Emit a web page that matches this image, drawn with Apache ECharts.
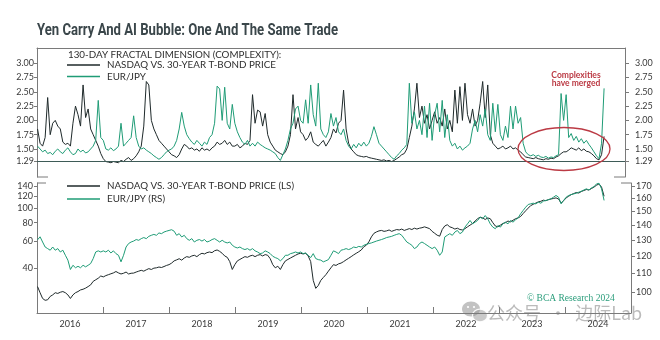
<!DOCTYPE html>
<html>
<head>
<meta charset="utf-8">
<script src="https://cdn.jsdelivr.net/npm/echarts@6/dist/echarts.min.js"></script>
<style>
  html, body { margin: 0; padding: 0; background: #ffffff; }
  #chart { width: 660px; height: 340px; }
</style>
</head>
<body>
<div id="chart"></div>
<script>
// Sampling: one observation every two weeks, starting on the first Monday of 2016.
const SERIES_START = Date.UTC(2016, 0, 4);
const STEP_DAYS = 14;

// 130-day fractal dimension of NASDAQ vs. 30-year T-bond price
const complexityNasdaq = [
  1.85,1.60,1.55,1.70,2.40,1.75,1.95,2.00,1.90,1.85,1.62,1.58,1.60,1.55,1.95,2.25,2.10,1.90,2.62,2.05,2.20,1.85,1.75,1.65,1.55,1.42,
  1.33,1.28,1.27,1.26,1.28,1.27,1.26,1.30,1.28,1.32,1.35,1.30,1.33,1.38,1.45,1.55,1.90,2.68,2.62,2.00,1.85,1.75,1.65,1.60,1.55,1.50,
  1.45,1.40,1.38,1.35,1.40,1.50,1.58,1.55,1.50,1.52,1.48,1.50,1.46,1.52,1.48,1.50,1.47,1.52,1.55,1.62,1.58,1.60,1.65,1.58,1.62,1.55,
  1.55,1.58,1.52,1.55,1.60,1.58,1.65,2.45,1.95,2.18,2.15,1.90,2.12,1.75,1.62,1.55,1.48,1.45,1.42,1.40,1.45,1.55,1.75,2.45,1.85,2.05,1.80,
  1.75,1.65,1.70,1.80,1.62,1.58,1.55,1.60,1.65,1.55,1.62,1.70,1.85,1.78,1.95,2.00,2.53,1.85,1.60,1.50,1.45,1.40,1.38,1.37,1.36,1.37,
  1.35,1.34,1.33,1.32,1.31,1.30,1.31,1.29,1.30,1.28,1.30,1.33,1.36,1.40,1.42,1.50,1.70,1.90,2.20,2.65,2.05,2.25,1.95,2.10,1.85,2.00,
  2.15,1.95,2.05,1.90,2.20,1.85,2.00,1.80,2.53,1.95,2.59,2.00,2.65,2.10,1.95,2.20,1.90,2.00,2.30,2.68,2.05,2.62,1.75,1.60,1.55,1.50,
  1.52,1.55,1.50,1.52,1.55,1.50,1.52,1.48,1.45,1.40,1.36,1.35,1.34,1.33,1.35,1.33,1.32,1.31,1.33,1.32,1.34,1.33,1.36,1.38,1.42,1.45,
  1.45,1.48,1.52,1.50,1.48,1.52,1.47,1.50,1.46,1.45,1.42,1.38,1.33,1.31,1.40,1.72
];

// 130-day fractal dimension of EUR/JPY
const complexityEurJpy = [
  1.55,1.50,1.45,1.48,1.42,1.44,1.40,1.46,1.50,1.45,1.42,1.48,1.52,1.45,1.40,1.42,1.50,1.45,1.48,1.43,1.45,1.50,1.55,1.65,2.35,1.70,
  1.65,1.50,1.48,1.52,1.47,1.50,1.55,1.95,1.55,1.60,1.65,1.70,2.08,1.70,1.55,1.50,1.52,1.48,1.45,1.42,1.38,1.35,1.32,1.35,1.40,1.45,
  1.48,1.50,1.55,1.65,1.85,2.14,1.90,1.75,1.68,1.62,1.58,1.65,1.60,1.55,1.62,1.58,1.70,1.75,1.95,2.60,2.55,2.00,2.58,1.95,1.85,2.28,
  1.95,1.80,1.70,1.62,1.58,1.65,1.55,1.60,1.55,1.62,1.58,1.55,1.52,1.50,1.48,1.45,1.42,1.35,1.30,1.40,1.50,1.65,1.85,1.95,2.20,2.25,2.00,
  1.95,2.36,1.95,2.62,2.10,1.90,2.65,1.85,1.75,1.70,1.80,2.12,1.90,2.05,1.80,1.75,1.85,1.65,1.55,1.50,1.58,1.52,1.60,1.55,1.62,1.55,
  1.60,1.72,1.89,1.75,1.60,1.55,1.50,1.45,1.40,1.35,1.32,1.38,1.42,1.48,1.52,1.58,2.65,1.95,2.15,1.85,2.00,1.75,2.25,1.70,2.30,1.65,
  2.10,2.30,1.80,2.35,1.70,2.10,1.65,1.55,1.60,1.50,1.55,1.48,1.52,1.55,1.60,1.85,2.00,1.80,2.10,1.90,2.20,1.75,1.65,2.30,1.80,2.28,
  1.75,1.65,1.90,1.70,2.25,1.85,2.25,1.95,2.05,1.60,1.45,1.40,1.38,1.40,1.37,1.39,1.36,1.35,1.37,1.34,1.36,1.35,1.38,1.40,2.47,2.00,
  2.45,1.70,1.77,1.65,1.72,1.62,1.68,1.60,1.65,1.58,1.52,1.45,1.38,1.33,1.60,2.56
];

// NASDAQ vs. 30-year T-bond price ratio (left scale)
const nasdaqBondRatio = [
  30.0,27.3,25.0,24.3,24.5,25.8,26.4,27.3,27.0,27.5,27.8,27.3,26.4,25.0,26.4,27.3,27.8,28.5,28.8,29.3,30.0,30.8,32.5,33.3,34.1,35.3,
  34.8,35.5,36.0,36.5,37.0,37.8,37.0,36.4,36.8,37.5,36.4,36.8,36.9,37.5,38.0,38.5,38.0,38.8,39.5,39.0,39.8,40.0,40.5,40.2,40.8,41.5,
  42.0,43.0,44.5,45.2,46.0,45.0,46.5,47.5,47.0,48.0,48.5,47.5,49.0,50.0,49.5,50.5,51.0,50.5,52.0,52.6,51.5,50.0,48.0,47.0,44.0,39.0,
  42.0,44.5,45.5,46.5,47.5,47.0,48.0,48.5,47.5,48.5,49.0,48.0,49.0,48.5,46.0,42.0,40.0,41.0,39.0,42.0,44.5,45.5,46.5,47.5,48.5,49.5,50.0,
  49.5,50.0,48.0,44.0,33.0,29.2,30.5,33.0,34.5,36.0,38.0,40.0,42.0,41.5,42.5,43.0,44.0,45.2,46.3,47.5,48.8,50.0,51.2,52.6,55.3,56.6,
  59.6,64.3,67.9,69.4,70.5,71.0,70.0,70.5,71.5,70.0,71.0,72.0,71.5,72.5,71.0,72.0,73.0,72.0,73.5,72.5,73.5,74.0,75.0,74.0,73.0,70.0,
  68.0,66.0,65.0,72.0,76.0,77.5,75.0,74.0,72.5,73.5,72.0,71.5,73.0,75.0,77.0,79.0,82.0,85.0,87.0,86.0,84.0,86.0,85.0,80.0,76.0,75.0,
  77,79,80,82,81,83,85,86,88,92,96,100,104,106,108,110,111,113,112,114,115,116,117,115,108,112,
  117,120,123,125,127,126,129,131,133,132,135,138,142,145,138,120
];

// EUR/JPY (right scale)
const eurJpy = [
  130,132,128.6,125.4,124.4,123.4,125.4,123.4,124.4,122.3,123.4,120.3,117.4,112,114.4,113,113.8,113,114.4,113.5,114.4,115.4,118.3,122.3,123,122.3,
  123,122.3,123.4,121.7,123,121.3,120.3,116.4,120.3,125.4,127.6,128.6,129.2,130.2,129.7,130.8,131.5,130.8,132.3,133,133.6,133,134.6,134.1,135.2,135.8,
  136.3,136.8,135.8,133,134.1,131.9,133,130.8,129.7,130.8,128.6,129.7,130.2,129.2,130.2,128.6,129.2,130.2,130.8,129.7,128.6,129.7,128.6,128,128.6,126.5,
  125.4,124.8,125.4,124.4,123.8,124.4,123.4,124.4,123,122.3,121.3,121.7,123,122.3,121.3,119.7,118.9,118.3,117,118.3,120.3,120.3,121.3,121.7,122.3,121.7,122.3,
  121.3,121.7,120.3,118.9,121.3,118.3,117.7,117.4,116.4,117,117.7,120.3,123,122.3,121.3,123.4,123.8,124.4,123.8,124.4,125.4,125,125.8,125.4,126.5,127.1,
  127.6,128,128.6,129.2,129.7,130.2,130.8,131.5,131.9,132.3,133,133.6,134.1,133,130.8,128.6,127.6,126.5,124.4,125.4,127.6,128.6,127.6,126.5,125.4,124.4,
  125.4,123.4,120.3,122.3,131.9,133,134.1,133,135.2,136.3,134.1,135.2,138.6,140.9,143.3,140.9,142.1,143.3,145.7,144.5,146.9,144.5,140.9,138.6,137.5,139.7,
  138.6,140.9,142.1,140.9,143.3,142.1,143.8,145.2,148.2,150.7,153.2,155.3,155.8,156.3,155.8,157.1,156.3,157.9,158.5,159,159.8,161.1,162.5,161.1,155.8,158.5,
  161.1,162.5,163.2,163.8,164.3,165.2,166,167,168,167,168.8,169.8,172.2,172.8,168,158.5
];

const yearLabels = ['2016','2017','2018','2019','2020','2021','2022','2023','2024'];
const complexityTicks = [1.29, 1.50, 1.75, 2.00, 2.25, 2.50, 2.75, 3.00];
const ratioTicks = [40, 60, 80, 100, 120, 140];
const eurJpyTicks = [100, 110, 120, 130, 140, 150, 160, 170];
const mergedThreshold = 1.29;

const DAY = 86400000;
const dates = complexityNasdaq.map((_, i) => SERIES_START + i * STEP_DAYS * DAY);
const pair = arr => arr.map((v, i) => [dates[i], v]);

const AXIS_START = Date.UTC(2016, 0, 1);
const AXIS_END = Date.UTC(2025, 0, 1);
// upper panel stops a little short of the lower one
const TOP_END = AXIS_START + Math.round((AXIS_END - AXIS_START) * 588 / 594);

const DARK = '#1f2a2b';
const TEAL = '#1f9c76';
const RED = '#bb3a44';
const AXIS = '#7a7a7a';
const FONT = 'Lato';
const labelBase = { fontFamily: FONT, fontSize: 9, color: '#3a3a3a' };
const axisLine = { show: true, lineStyle: { color: AXIS, width: 1 } };
const legendText = { fontFamily: FONT, fontSize: 9.8, color: '#2f2f2f', lineHeight: 11, padding: [0, 0, 0, 2] };

// Headline: bold sans squeezed horizontally into a condensed face
const TITLE = 'Yen Carry And AI Bubble: One And The Same Trade';
const TITLE_SIZE = 16;
const TITLE_WIDTH = 301;
const measureCtx = document.createElement('canvas').getContext('2d');
measureCtx.font = 'bold ' + TITLE_SIZE + 'px Roboto';
const titleScale = TITLE_WIDTH / measureCtx.measureText(TITLE).width;

const chart = echarts.init(document.getElementById('chart'), null, { renderer: 'canvas' });

chart.setOption({
  animation: false,
  backgroundColor: '#ffffff',
  title: [
    {
      text: '130-DAY FRACTAL DIMENSION (COMPLEXITY):',
      left: 68, top: 50, padding: 0,
      textStyle: { fontFamily: FONT, fontWeight: 'normal', fontSize: 9.8, color: '#2f2f2f' }
    }
  ],
  legend: [
    {
      data: ['NASDAQ VS. 30-YEAR T-BOND PRICE', 'EUR/JPY'],
      left: 67, top: 59.5, orient: 'vertical', padding: 0,
      icon: 'rect', itemWidth: 33, itemHeight: 1.4, itemGap: 0.5,
      selectedMode: false, textStyle: legendText
    },
    {
      data: ['NASDAQ VS. 30-YEAR T-BOND PRICE (LS)', 'EUR/JPY (RS)'],
      left: 67, top: 180.5, orient: 'vertical', padding: 0,
      icon: 'rect', itemWidth: 33, itemHeight: 1.4, itemGap: 2,
      selectedMode: false, textStyle: legendText
    }
  ],
  grid: [
    { left: 37, top: 48, width: 588, height: 129 },
    { left: 37, top: 183, width: 594, height: 130 }
  ],
  xAxis: [
    {
      type: 'time', gridIndex: 0, position: 'top', min: AXIS_START, max: TOP_END,
      axisLine: axisLine, axisTick: { show: false }, axisLabel: { show: false }, splitLine: { show: false }
    },
    {
      type: 'time', gridIndex: 1, min: AXIS_START, max: AXIS_END, show: false
    },
    {
      type: 'category', gridIndex: 1, position: 'bottom', data: yearLabels, boundaryGap: true,
      axisLine: axisLine,
      axisTick: { show: true, inside: true, length: 6, lineStyle: { color: AXIS } },
      axisLabel: Object.assign({ margin: 7 }, labelBase),
      splitLine: { show: false }
    }
  ],
  yAxis: [
    {
      type: 'value', gridIndex: 0, position: 'left', min: 1.01, max: 3.266,
      axisLine: axisLine,
      axisTick: { show: true, length: 3, customValues: complexityTicks, lineStyle: { color: AXIS } },
      axisLabel: Object.assign({ margin: 3, customValues: complexityTicks, formatter: v => v.toFixed(2) }, labelBase),
      splitLine: { show: false }
    },
    {
      type: 'value', gridIndex: 0, position: 'right', min: 1.01, max: 3.266,
      axisLine: axisLine,
      axisTick: { show: true, length: 4, customValues: complexityTicks, lineStyle: { color: AXIS } },
      axisLabel: Object.assign({ margin: 10, customValues: complexityTicks, formatter: v => v.toFixed(2) }, labelBase),
      splitLine: { show: false }
    },
    {
      type: 'log', logBase: 10, gridIndex: 1, position: 'left', min: 20, max: 147,
      axisLine: axisLine,
      axisTick: { show: true, length: 3, customValues: ratioTicks, lineStyle: { color: AXIS } },
      axisLabel: Object.assign({ margin: 4, customValues: ratioTicks, formatter: v => String(Math.round(v)) }, labelBase),
      splitLine: { show: false }
    },
    {
      type: 'log', logBase: 10, gridIndex: 1, position: 'right', min: 90, max: 173,
      axisLine: axisLine,
      axisTick: { show: true, length: 4, customValues: eurJpyTicks, lineStyle: { color: AXIS } },
      axisLabel: Object.assign({ margin: 5, customValues: eurJpyTicks, formatter: v => String(Math.round(v)) }, labelBase),
      splitLine: { show: false }
    }
  ],
  series: [
    {
      name: 'NASDAQ VS. 30-YEAR T-BOND PRICE', type: 'line', xAxisIndex: 0, yAxisIndex: 0,
      data: pair(complexityNasdaq), symbol: 'none', showSymbol: false,
      lineStyle: { color: DARK, width: 1 }, itemStyle: { color: DARK },
      markLine: {
        silent: true, symbol: 'none', label: { show: false },
        lineStyle: { color: '#3e5b57', width: 1.2, type: 'solid' },
        data: [{ yAxis: mergedThreshold }]
      }
    },
    {
      name: 'EUR/JPY', type: 'line', xAxisIndex: 0, yAxisIndex: 0,
      data: pair(complexityEurJpy), symbol: 'none', showSymbol: false,
      lineStyle: { color: TEAL, width: 1 }, itemStyle: { color: TEAL }
    },
    {
      name: 'NASDAQ VS. 30-YEAR T-BOND PRICE (LS)', type: 'line', xAxisIndex: 1, yAxisIndex: 2,
      data: pair(nasdaqBondRatio), symbol: 'none', showSymbol: false,
      lineStyle: { color: DARK, width: 1 }, itemStyle: { color: DARK }
    },
    {
      name: 'EUR/JPY (RS)', type: 'line', xAxisIndex: 1, yAxisIndex: 3,
      data: pair(eurJpy), symbol: 'none', showSymbol: false,
      lineStyle: { color: TEAL, width: 1 }, itemStyle: { color: TEAL }
    }
  ],
  graphic: [
    {
      type: 'text', silent: true, x: 37, y: 31, scaleX: titleScale,
      style: {
        text: TITLE, align: 'left', verticalAlign: 'middle',
        fontFamily: 'Roboto', fontWeight: 'bold', fontSize: TITLE_SIZE, fill: '#3a464a'
      }
    },
    // corner stubs of the panel frames
    { type: 'line', silent: true, shape: { x1: 37, y1: 177, x2: 48, y2: 177 }, style: { stroke: AXIS, lineWidth: 1 } },
    { type: 'line', silent: true, shape: { x1: 614, y1: 177, x2: 625, y2: 177 }, style: { stroke: AXIS, lineWidth: 1 } },
    { type: 'line', silent: true, shape: { x1: 37, y1: 183, x2: 46, y2: 183 }, style: { stroke: AXIS, lineWidth: 1 } },
    { type: 'line', silent: true, shape: { x1: 621, y1: 183, x2: 631, y2: 183 }, style: { stroke: AXIS, lineWidth: 1 } },
    // annotation
    {
      type: 'ellipse', silent: true, z: 20,
      shape: { cx: 564, cy: 149, rx: 46, ry: 21.5 },
      style: { fill: 'none', stroke: RED, lineWidth: 1.3 }
    },
    {
      type: 'text', silent: true, z: 20, x: 576, y: 71,
      style: {
        text: 'Complexities\nhave merged', align: 'center', verticalAlign: 'top',
        fontFamily: FONT, fontWeight: 'bold', fontSize: 8.5, lineHeight: 8.5, fill: RED
      }
    },
    {
      type: 'text', silent: true, z: 20, x: 527, y: 298,
      style: {
        text: '\u00A9 BCA Research 2024', align: 'left', verticalAlign: 'middle',
        fontFamily: 'Liberation Serif', fontSize: 9.5, fill: '#2a9d7b'
      }
    },
    // account badge
    {
      type: 'group', silent: true, z: 30,
      children: [
        { type: 'ellipse', shape: { cx: 471, cy: 309, rx: 9, ry: 7.5 }, style: { fill: 'rgba(120,120,120,0.45)' } },
        { type: 'ellipse', shape: { cx: 480, cy: 315.5, rx: 7.5, ry: 6.3 }, style: { fill: 'rgba(150,150,150,0.5)', stroke: 'rgba(255,255,255,0.9)', lineWidth: 1.2 } },
        { type: 'circle', shape: { cx: 468, cy: 307, r: 1.1 }, style: { fill: '#ffffff' } },
        { type: 'circle', shape: { cx: 474, cy: 307, r: 1.1 }, style: { fill: '#ffffff' } },
        {
          type: 'text', x: 487, y: 313,
          style: {
            text: '公众号  ·  边际Lab', align: 'left', verticalAlign: 'middle',
            fontFamily: 'Noto Sans CJK SC', fontSize: 18, fill: 'rgba(120,120,120,0.5)'
          }
        }
      ]
    }
  ]
});
</script>
</body>
</html>
